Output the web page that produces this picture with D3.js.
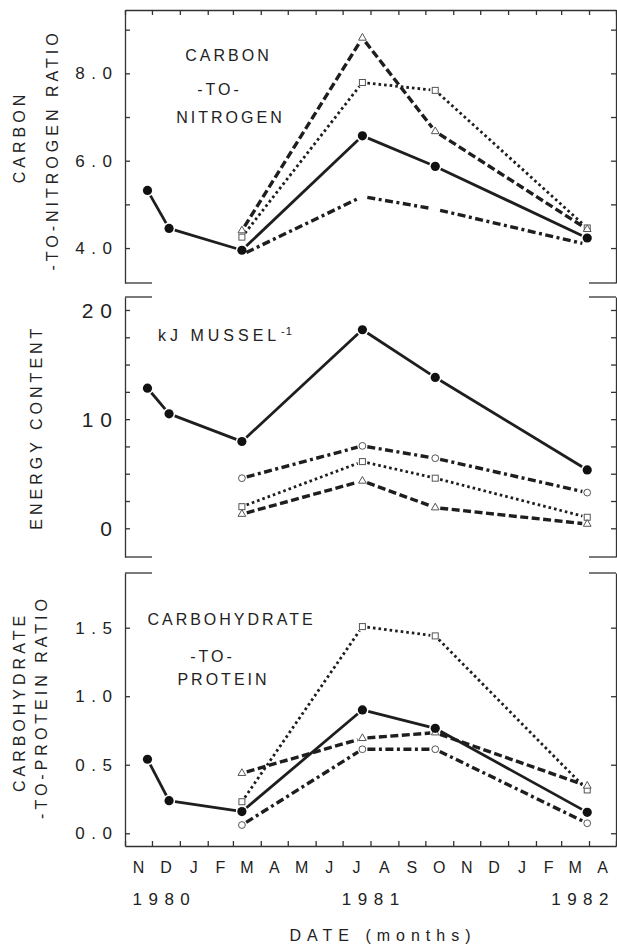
<!DOCTYPE html>
<html>
<head>
<meta charset="utf-8">
<script src="https://cdn.jsdelivr.net/npm/d3@7"></script>
<style>
  html, body { margin: 0; padding: 0; background: #fff; }
  svg { display: block; }
  text { font-family: "Liberation Sans", Arial, Helvetica, sans-serif; fill: #222; }
</style>
</head>
<body>
<div id="chart"></div>
<script>
// sampling dates and x-axis labels
const sampleDates = ['1980-11-26', '1980-12-20', '1981-03-11', '1981-07-23', '1981-10-12', '1982-03-30']
const monthLabels = ['N', 'D', 'J', 'F', 'M', 'A', 'M', 'J', 'J', 'A', 'S', 'O', 'N', 'D', 'J', 'F', 'M', 'A']
const yearLabels = ['1980', '1981', '1982']

// carbon-to-nitrogen ratio
const cnFilled = [5.32, 4.45, 3.95, 6.57, 5.87, 4.23]
const cnTriangle = [null, null, 4.40, 8.81, 6.67, 4.43]
const cnSquare = [null, null, 4.25, 7.79, 7.61, 4.46]
const cnCircle = [null, null, 3.85, 5.18, 4.89, 4.08]
const cnTicks = [4, 5, 6, 7, 8, 9]
const cnTickLabels = ['4.0', '', '6.0', '', '8.0', '']

// energy content, kJ per mussel
const enFilled = [12.84, 10.49, 7.95, 18.19, 13.82, 5.35]
const enCircle = [null, null, 4.59, 7.55, 6.42, 3.27]
const enSquare = [null, null, 1.98, 6.11, 4.59, 1.01]
const enTriangle = [null, null, 1.30, 4.34, 1.89, 0.39]
const enTicks = [0, 2.5, 5, 7.5, 10, 12.5, 15, 17.5, 20]
const enTickLabels = ['0', '', '', '', '10', '', '', '', '20']

// carbohydrate-to-protein ratio
const cpFilled = [0.54, 0.238, 0.158, 0.90, 0.766, 0.153]
const cpTriangle = [null, null, 0.438, 0.693, 0.734, 0.345]
const cpSquare = [null, null, 0.23, 1.508, 1.44, 0.316]
const cpCircle = [null, null, 0.06, 0.613, 0.613, 0.073]
const cpTicks = [0, 0.5, 1, 1.5]
const cpTickLabels = ['0.0', '0.5', '1.0', '1.5']

const W = 617, H = 946
const left = 125, right = 616
const ink = '#1e1e1e'

const svg = d3.select('#chart').append('svg')
  .attr('width', W)
  .attr('height', H)

const start = new Date(1980, 10, 1)
const end = new Date(1982, 4, 1)
const x = d3.scaleTime().domain([start, end]).range([left, right])
const dates = sampleDates.map(d3.timeParse('%Y-%m-%d'))
const monthStarts = d3.timeMonth.range(start, d3.timeDay.offset(end, 1))

const styles = {
  filled: { dash: null, width: 2.8, gap: 6 },
  triangle: { dash: '8,3.5', width: 3.4, gap: 5 },
  square: { dash: '2.6,3', width: 2.8, gap: 5 },
  circle: { dash: '8,3.5,3,3.5', width: 3.4, gap: 5 }
}

// letter-spaced text, placed from its measured visible width
const ctx = document.createElement('canvas').getContext('2d')
function spaced (g, str, px, py, size, ls, anchor) {
  ctx.font = `${size}px "Liberation Sans", Arial, sans-serif`
  const w = ctx.measureText(str).width + ls * (str.length - 1)
  const x0 = anchor === 'end' ? px - w : anchor === 'middle' ? px - w / 2 : px
  return g.append('text')
    .attr('x', x0)
    .attr('y', py)
    .attr('font-size', size)
    .attr('letter-spacing', ls)
    .text(str)
}

const panels = [
  {
    top: 10, bottom: 283, domain: [3.2, 9.45],
    ticks: cnTicks, tickLabels: cnTickLabels, labelSize: 17, labelLs: 6.5,
    series: [['circle', cnCircle], ['square', cnSquare], ['triangle', cnTriangle], ['filled', cnFilled]],
    hideMarkers: ['circle'], fullTop: true,
    title: [['CARBON', 19, 139], ['-TO-NITROGEN RATIO', 52, 152]],
    note: [['CARBON', 227, 61], ['-TO-', 218, 95], ['NITROGEN', 229, 123]]
  },
  {
    top: 297, bottom: 557, domain: [-2.63, 21.19],
    ticks: enTicks, tickLabels: enTickLabels, labelSize: 21, labelLs: 7,
    series: [['circle', enCircle], ['square', enSquare], ['triangle', enTriangle], ['filled', enFilled]],
    hideMarkers: [],
    title: [['ENERGY CONTENT', 36, 429]],
    note: []
  },
  {
    top: 573, bottom: 846, domain: [-0.093, 1.899],
    ticks: cpTicks, tickLabels: cpTickLabels, labelSize: 17, labelLs: 6.5,
    series: [['circle', cpCircle], ['square', cpSquare], ['triangle', cpTriangle], ['filled', cpFilled]],
    hideMarkers: [], fullBottom: true,
    title: [['CARBOHYDRATE', 19, 704], ['-TO-PROTEIN RATIO', 41, 709]],
    note: [['CARBOHYDRATE', 230, 625], ['-TO-', 211, 662], ['PROTEIN', 222, 685]]
  }
]

function corners (g, yy) {
  ;[[left, left + 27], [right - 27, right]].forEach(([a, b]) => {
    g.append('line').attr('x1', a).attr('x2', b).attr('y1', yy).attr('y2', yy)
      .attr('stroke', '#333').attr('stroke-width', 1.3)
  })
}

panels.forEach(p => {
  const y = d3.scaleLinear().domain(p.domain).range([p.bottom, p.top])
  const g = svg.append('g')

  // frame: left and right axes with inward ticks
  const axL = g.append('g').attr('transform', `translate(${left},0)`)
    .call(d3.axisLeft(y).tickValues(p.ticks).tickSize(-5).tickSizeOuter(0).tickFormat(''))
  const axR = g.append('g').attr('transform', `translate(${right},0)`)
    .call(d3.axisRight(y).tickValues(p.ticks).tickSize(-5).tickSizeOuter(0).tickFormat(''))
  ;[axL, axR].forEach(a => a.attr('color', '#333').selectAll('path, line').attr('stroke-width', 1.3))

  if (p.fullTop) {
    g.append('g').attr('transform', `translate(0,${p.top})`)
      .call(d3.axisTop(x).tickValues(monthStarts).tickSize(-5).tickSizeOuter(0).tickFormat(''))
      .attr('color', '#333').selectAll('path, line').attr('stroke-width', 1.3)
  } else {
    corners(g, p.top)
  }
  if (p.fullBottom) {
    g.append('g').attr('transform', `translate(0,${p.bottom})`)
      .call(d3.axisBottom(x).tickValues(monthStarts).tickSize(-5).tickSizeOuter(0).tickFormat(''))
      .attr('color', '#333').selectAll('path, line').attr('stroke-width', 1.3)
  } else {
    corners(g, p.bottom)
  }

  // tick labels
  p.ticks.forEach((t, i) => {
    if (!p.tickLabels[i]) return
    spaced(g, p.tickLabels[i], 112, y(t), p.labelSize, p.labelLs, 'end')
      .attr('dy', '0.36em')
  })

  // rotated axis titles
  p.title.forEach(([str, cx, cy]) => {
    spaced(g, str, 0, 0, 16, 4, 'middle')
      .attr('dy', '0.36em')
      .attr('transform', `translate(${cx},${cy}) rotate(-90)`)
  })

  // in-panel notes
  p.note.forEach(([str, cx, by]) => {
    spaced(g, str, cx, by, 16, 3, 'middle')
  })

  // lines, broken short of each marker
  const line = d3.line()
  p.series.forEach(([kind, values]) => {
    const st = styles[kind]
    for (let i = 0; i < values.length - 1; i++) {
      if (values[i] == null || values[i + 1] == null) continue
      const x0 = x(dates[i]), y0 = y(values[i])
      const x1 = x(dates[i + 1]), y1 = y(values[i + 1])
      const len = Math.hypot(x1 - x0, y1 - y0)
      const ux = (x1 - x0) / len, uy = (y1 - y0) / len
      const pts = [[x0 + ux * st.gap, y0 + uy * st.gap], [x1 - ux * st.gap, y1 - uy * st.gap]]
      g.append('path')
        .attr('d', line(pts))
        .attr('fill', 'none')
        .attr('stroke', ink)
        .attr('stroke-width', st.width)
        .attr('stroke-dasharray', st.dash)
    }
  })

  // markers
  p.series.forEach(([kind, values]) => {
    if (p.hideMarkers.includes(kind)) return
    values.forEach((v, i) => {
      if (v == null) return
      const cx = x(dates[i]), cy = y(v)
      if (kind === 'filled') {
        g.append('circle').attr('cx', cx).attr('cy', cy).attr('r', 4.6).attr('fill', '#111')
      } else if (kind === 'circle') {
        g.append('circle').attr('cx', cx).attr('cy', cy).attr('r', 3.4)
          .attr('fill', '#fff').attr('stroke', '#555').attr('stroke-width', 1)
      } else if (kind === 'square') {
        g.append('rect').attr('x', cx - 3).attr('y', cy - 3).attr('width', 6).attr('height', 6)
          .attr('fill', '#fff').attr('stroke', '#555').attr('stroke-width', 1)
      } else {
        g.append('path').attr('transform', `translate(${cx},${cy})`)
          .attr('d', d3.symbol(d3.symbolTriangle, 26)())
          .attr('fill', '#fff').attr('stroke', '#555').attr('stroke-width', 1)
      }
    })
  })
})

// month labels, centred in each month interval
const axisText = svg.append('g')
monthLabels.forEach((m, i) => {
  const cx = (x(monthStarts[i]) + x(monthStarts[i + 1])) / 2
  spaced(axisText, m, cx, 873, 16, 0, 'middle')
})

// year labels
const firstMid = (x(monthStarts[0]) + x(monthStarts[1])) / 2
const lastMid = (x(monthStarts[17]) + x(monthStarts[18])) / 2
spaced(axisText, yearLabels[0], firstMid - 6, 905, 17, 6.5, 'start')
spaced(axisText, yearLabels[1], x(new Date(1981, 7, 1)), 905, 17, 6.5, 'middle')
spaced(axisText, yearLabels[2], lastMid + 6, 905, 17, 6.5, 'end')

spaced(axisText, 'DATE (months)', 380, 941, 16, 6, 'middle')

// energy panel unit label with superscript
spaced(svg, 'kJ MUSSEL', 158, 341, 16, 4, 'start')
spaced(svg, '-1', 281, 335, 11, 1, 'start')
</script>
</body>
</html>
